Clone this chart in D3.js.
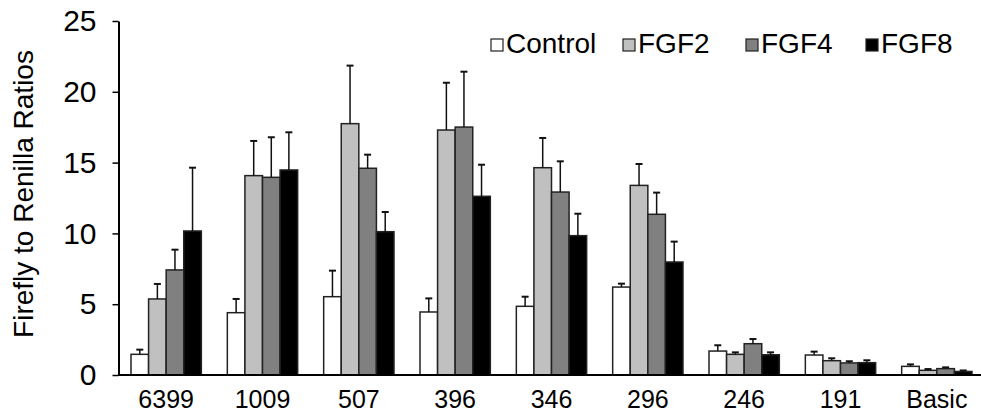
<!DOCTYPE html>
<html>
<head>
<meta charset="utf-8">
<script src="https://cdn.jsdelivr.net/npm/d3@7"></script>
<style>
  body { margin: 0; background: #fff; }
  text { font-family: "Liberation Sans", Arial, sans-serif; fill: #000; }
</style>
</head>
<body>
<svg width="981" height="420"></svg>
<script>
// dados
var categorias = ['6399', '1009', '507', '396', '346', '296', '246', '191', 'Basic'];
var series = ['Control', 'FGF2', 'FGF4', 'FGF8'];
var cores = ['#ffffff', '#c0c0c0', '#808080', '#000000'];

var control = [1.46, 4.40, 5.53, 4.45, 4.85, 6.21, 1.69, 1.41, 0.61];
var fgf2 = [5.37, 14.08, 17.75, 17.30, 14.64, 13.39, 1.46, 1.01, 0.33];
var fgf4 = [7.42, 13.96, 14.60, 17.51, 12.92, 11.35, 2.21, 0.85, 0.45];
var fgf8 = [10.17, 14.48, 10.12, 12.62, 9.84, 7.98, 1.43, 0.87, 0.25];

// barras de erro (so para cima)
var errControl = [0.33, 0.97, 1.84, 0.96, 0.68, 0.24, 0.41, 0.24, 0.14];
var errFgf2 = [1.06, 2.45, 4.10, 3.34, 2.10, 1.51, 0.14, 0.17, 0.09];
var errFgf4 = [1.43, 2.83, 0.96, 3.91, 2.17, 1.53, 0.33, 0.12, 0.09];
var errFgf8 = [4.47, 2.66, 1.39, 2.23, 1.55, 1.44, 0.17, 0.17, 0.07];

var yTicks = [0, 5, 10, 15, 20, 25];

var valores = [control, fgf2, fgf4, fgf8];
var erros = [errControl, errFgf2, errFgf4, errFgf8];

var svg = d3.select('svg');

//escalas
var x = d3.scaleBand().domain(categorias).range([118, 985]).paddingInner(0.27).paddingOuter(0.135);
var xs = d3.scaleBand().domain(series).range([0, x.bandwidth()]);
var y = d3.scaleLinear().domain([0, 25]).range([375, 21]);

//barras
for (let s = 0; s < series.length; s++) {
    let g = svg.append('g');
    g.selectAll('rect').data(categorias).enter().append('rect')
        .attr('x', d => x(d) + xs(series[s]))
        .attr('y', (d, i) => y(valores[s][i]))
        .attr('width', xs.bandwidth())
        .attr('height', (d, i) => y(0) - y(valores[s][i]))
        .attr('fill', cores[s])
        .attr('stroke', '#222')
        .attr('stroke-width', 1.5);

    //erro
    g.selectAll('line.err').data(categorias).enter().append('line')
        .attr('class', 'err')
        .attr('x1', d => x(d) + xs(series[s]) + xs.bandwidth() / 2)
        .attr('x2', d => x(d) + xs(series[s]) + xs.bandwidth() / 2)
        .attr('y1', (d, i) => y(valores[s][i]))
        .attr('y2', (d, i) => y(valores[s][i] + erros[s][i]))
        .attr('stroke', '#111').attr('stroke-width', 1.5);
    g.selectAll('line.cap').data(categorias).enter().append('line')
        .attr('class', 'cap')
        .attr('x1', d => x(d) + xs(series[s]) + xs.bandwidth() / 2 - 3.5)
        .attr('x2', d => x(d) + xs(series[s]) + xs.bandwidth() / 2 + 3.5)
        .attr('y1', (d, i) => y(valores[s][i] + erros[s][i]))
        .attr('y2', (d, i) => y(valores[s][i] + erros[s][i]))
        .attr('stroke', '#111').attr('stroke-width', 2);
}

//eixo y
var eixoY = svg.append('g').attr('transform', 'translate(118.5,0)')
    .call(d3.axisLeft(y).tickValues(yTicks).tickSize(6).tickSizeOuter(0).tickPadding(16));
eixoY.select('.domain').attr('stroke', '#000').attr('stroke-width', 2);
eixoY.selectAll('.tick line').attr('stroke', '#000').attr('stroke-width', 1.5);
eixoY.selectAll('.tick text').style('font-size', '30px').style('font-family', '"Liberation Sans", Arial, sans-serif');

//eixo x
var eixoX = svg.append('g').attr('transform', 'translate(0,375)')
    .call(d3.axisBottom(x).tickSize(0).tickPadding(15));
eixoX.select('.domain').attr('d', 'M118,0H981').attr('stroke', '#000').attr('stroke-width', 2);
eixoX.selectAll('.tick text').style('font-size', '25px').style('font-family', '"Liberation Sans", Arial, sans-serif');

//titulo do eixo y
svg.append('text')
    .attr('transform', 'translate(33,194) rotate(-90)')
    .attr('text-anchor', 'middle')
    .style('font-size', '28px')
    .text('Firefly to Renilla Ratios');

//legenda
var legX = [491, 623, 746, 866];
var leg = svg.append('g');
series.forEach((s, i) => {
    leg.append('rect').attr('x', legX[i]).attr('y', 39).attr('width', 12).attr('height', 12)
        .attr('fill', cores[i]).attr('stroke', '#222').attr('stroke-width', 1.2);
    leg.append('text').attr('x', legX[i] + 15).attr('y', 53).style('font-size', '28px').text(s);
});
</script>
</body>
</html>
